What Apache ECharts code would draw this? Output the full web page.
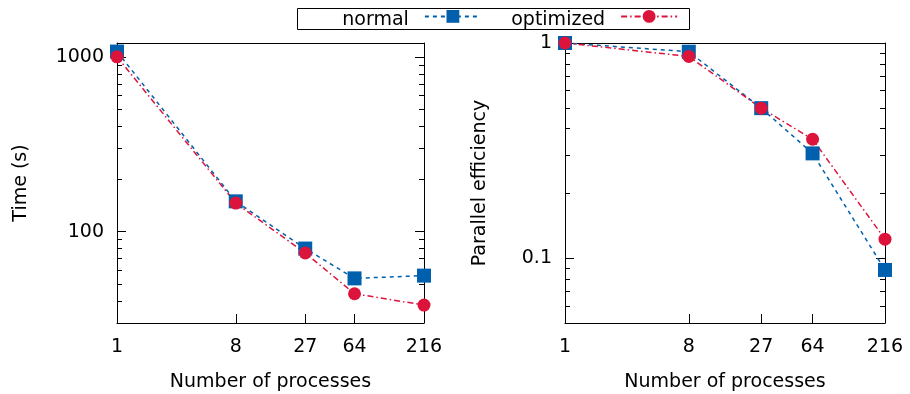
<!DOCTYPE html>
<html>
<head>
<meta charset="utf-8">
<script src="https://cdn.jsdelivr.net/npm/echarts@6/dist/echarts.min.js"></script>
<style>
  html, body { margin: 0; padding: 0; background: #fff; }
  #chart { width: 910px; height: 394px; }
</style>
</head>
<body>
<div id="chart"></div>
<script>
// number of processes
const procs = [1, 8, 27, 64, 216];

// time (s)
const timeNormal = [1072, 149, 80, 54, 56];
const timeOptimized = [1000, 145.6, 75.5, 44.1, 38];

// parallel efficiency
const effNormal = [1.0, 0.911, 0.498, 0.307, 0.0882];
const effOptimized = [1.0, 0.866, 0.498, 0.357, 0.1226];

const timeMajor = [100, 1000];
const timeMinor = [40, 50, 60, 70, 80, 90, 200, 300, 400, 500, 600, 700, 800, 900];
const effMajor = [0.1, 1];
const effMinor = [0.06, 0.07, 0.08, 0.09, 0.2, 0.3, 0.4, 0.5, 0.6, 0.7, 0.8, 0.9];

const FONT = "DejaVu Sans";
const BLUE = "#0060ad";
const RED = "#dc143c";

const chart = echarts.init(document.getElementById("chart"));

const pairs = (xs, ys) => xs.map((x, i) => [x, ys[i]]);

function bottomX(gridIndex) {
  return {
    type: "log",
    gridIndex: gridIndex,
    min: 1,
    max: 216,
    name: "Number of processes",
    nameLocation: "middle",
    nameGap: 50,
    nameTextStyle: { fontFamily: FONT, fontSize: 19, color: "#000" },
    axisLine: { show: true, lineStyle: { color: "#000", width: 1 } },
    axisTick: {
      show: true,
      inside: true,
      length: 9,
      customValues: procs,
      lineStyle: { color: "#000" },
    },
    axisLabel: {
      show: true,
      customValues: procs,
      margin: 15,
      fontFamily: FONT,
      fontSize: 19,
      color: "#000",
      formatter: (v) => String(v),
    },
    splitLine: { show: false },
    minorTick: { show: false },
  };
}

function topX(gridIndex) {
  return {
    type: "value",
    gridIndex: gridIndex,
    position: "top",
    min: 0,
    max: 1,
    axisLine: { show: true, lineStyle: { color: "#000", width: 1 } },
    axisTick: { show: false },
    axisLabel: { show: false },
    splitLine: { show: false },
  };
}

function yAxes(gridIndex, min, max, major, minor, name, nameGap) {
  const base = {
    type: "log",
    gridIndex: gridIndex,
    min: min,
    max: max,
    splitLine: { show: false },
    minorTick: { show: false },
  };
  return [
    // left, major ticks + labels
    Object.assign({}, base, {
      position: "left",
      name: name,
      nameLocation: "middle",
      nameGap: nameGap,
      nameTextStyle: { fontFamily: FONT, fontSize: 19, color: "#000" },
      axisLine: { show: true, lineStyle: { color: "#000", width: 1 } },
      axisTick: { show: true, inside: true, length: 9, customValues: major, lineStyle: { color: "#000" } },
      axisLabel: {
        show: true,
        customValues: major,
        margin: 13,
        fontFamily: FONT,
        fontSize: 19,
        color: "#000",
        formatter: (v) => String(v),
      },
    }),
    // left, minor ticks
    Object.assign({}, base, {
      position: "left",
      axisLine: { show: false },
      axisTick: { show: true, inside: true, length: 5, customValues: minor, lineStyle: { color: "#000" } },
      axisLabel: { show: false },
    }),
    // right mirror, major
    Object.assign({}, base, {
      position: "right",
      axisLine: { show: true, lineStyle: { color: "#000", width: 1 } },
      axisTick: { show: true, inside: true, length: 9, customValues: major, lineStyle: { color: "#000" } },
      axisLabel: { show: false },
    }),
    // right mirror, minor
    Object.assign({}, base, {
      position: "right",
      axisLine: { show: false },
      axisTick: { show: true, inside: true, length: 5, customValues: minor, lineStyle: { color: "#000" } },
      axisLabel: { show: false },
    }),
  ];
}

function normalSeries(xi, yi, data) {
  return {
    name: "normal",
    type: "line",
    xAxisIndex: xi,
    yAxisIndex: yi,
    data: data,
    symbol: "rect",
    symbolSize: 14,
    clip: false,
    itemStyle: { color: BLUE },
    lineStyle: { color: BLUE, width: 1.5, type: [4, 4] },
  };
}

function optimizedSeries(xi, yi, data) {
  return {
    name: "optimized",
    type: "line",
    xAxisIndex: xi,
    yAxisIndex: yi,
    data: data,
    symbol: "circle",
    symbolSize: 13,
    clip: false,
    itemStyle: { color: RED },
    lineStyle: { color: RED, width: 1.5, type: [6, 3, 1.5, 3] },
  };
}

const option = {
  backgroundColor: "#fff",
  animation: false,
  // key box
  graphic: [
    {
      type: "rect",
      shape: { x: 297.5, y: 8.5, width: 392, height: 21 },
      style: { fill: "#fff", stroke: "#000", lineWidth: 1 },
      z: 0,
    },
  ],
  legend: {
    data: ["normal", "optimized"],
    left: 342,
    top: 10,
    align: "right",
    itemWidth: 56,
    itemHeight: 16,
    itemGap: 29,
    padding: 0,
    lineStyle: { width: 2 },
    // spacer token makes the line taller so the name sits a bit lower than the key symbol
    formatter: (name) => "{s| }{t|" + name + "}",
    textStyle: {
      fontFamily: FONT,
      fontSize: 19,
      color: "#000",
      rich: {
        s: { fontSize: 1, lineHeight: 26 },
        t: { fontFamily: FONT, fontSize: 19, lineHeight: 19, color: "#000", verticalAlign: "bottom", padding: [0, 11, 0, 0] },
      },
    },
  },
  grid: [
    { left: 117, top: 43, width: 307, height: 280, outerBoundsMode: "none" },
    { left: 565, top: 43, width: 320, height: 280, outerBoundsMode: "none" },
  ],
  xAxis: [bottomX(0), topX(0), bottomX(1), topX(1)],
  yAxis: [].concat(
    yAxes(0, 30, 1200, timeMajor, timeMinor, "Time (s)", 86),
    yAxes(1, 0.05, 1, effMajor, effMinor, "Parallel efficiency", 75)
  ),
  series: [
    normalSeries(0, 0, pairs(procs, timeNormal)),
    optimizedSeries(0, 0, pairs(procs, timeOptimized)),
    normalSeries(2, 4, pairs(procs, effNormal)),
    optimizedSeries(2, 4, pairs(procs, effOptimized)),
  ],
};

chart.setOption(option);
</script>
</body>
</html>
